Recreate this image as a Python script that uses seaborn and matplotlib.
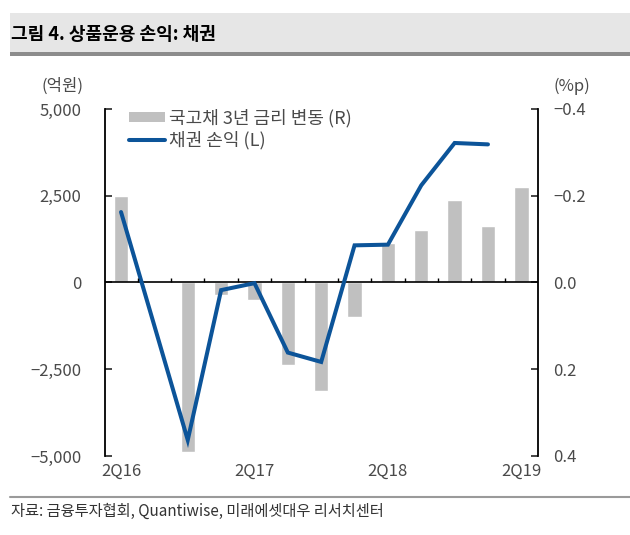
import numpy as np
import pandas as pd
import seaborn as sns
import matplotlib.pyplot as plt
from matplotlib.patches import Patch, Rectangle
from matplotlib.lines import Line2D
from matplotlib.ticker import FuncFormatter

sns.set_style("white")
plt.rcParams['font.family'] = ['Noto Sans CJK KR', 'DejaVu Sans']

# data
quarters = ['2Q16', '3Q16', '4Q16', '1Q17', '2Q17', '3Q17', '4Q17',
            '1Q18', '2Q18', '3Q18', '4Q18', '1Q19', '2Q19']
rate_change = [-0.20, 0.0, 0.39, 0.03, 0.04, 0.19, 0.25,
               0.08, -0.09, -0.12, -0.19, -0.13, -0.22]   # %p, right axis
bond_pl = [2030, -1250, -4540, -220, -20, -2020, -2290,
           1070, 1090, 2800, 4020, 3980, np.nan]          # 억원, left axis
tick_quarters = ['2Q16', '2Q17', '2Q18', '2Q19']

bar_label = '국고채 3년 금리 변동 (R)'
line_label = '채권 손익 (L)'
bar_color = '#c0c0c0'
line_color = '#0c5499'
text_color = '#4a4a4a'

df = pd.DataFrame({'pos': np.arange(len(quarters)), 'quarter': quarters,
                   'rate': rate_change, 'pl': bond_pl})

fig = plt.figure(figsize=(6.3, 5.35), dpi=100)
ax = fig.add_axes([0.1667, 0.1477, 0.6873, 0.6486])
ax2 = ax.twinx()

sns.barplot(data=df, x='pos', y='rate', ax=ax2, native_scale=True,
            color=bar_color, width=0.43, errorbar=None, saturation=1)
sns.lineplot(data=df.dropna(), x='pos', y='pl', ax=ax, color=line_color,
             linewidth=2.9, solid_capstyle='round', solid_joinstyle='miter')

ax.set_zorder(ax2.get_zorder() + 1)
ax.patch.set_visible(False)

# zero line and small ticks between quarters
ax.axhline(0, color='black', linewidth=1.2, zorder=1)
ax.vlines(df['pos'][:-1] + 0.5, 0, 120, color='black', linewidth=1.0)

ax.set_ylim(-5000, 5000)
ax.set_yticks([5000, 2500, 0, -2500, -5000])
ax.yaxis.set_major_formatter(FuncFormatter(
    lambda v, p: f'{v:,.0f}'.replace('-', '\u2212')))
ax2.set_ylim(0.4, -0.4)
ax2.set_yticks([-0.4, -0.2, 0.0, 0.2, 0.4])
ax2.yaxis.set_major_formatter(FuncFormatter(
    lambda v, p: f'{v:.1f}'.replace('-', '\u2212')))

ax.set_xlim(-0.48, len(quarters) - 0.5)
ax.set_xticks([quarters.index(q) for q in tick_quarters])
ax.set_xticklabels(tick_quarters)
ax.set_xlabel('')
ax.set_ylabel('')
ax2.set_xlabel('')
ax2.set_ylabel('')

for a in (ax, ax2):
    for s in ('top', 'bottom'):
        a.spines[s].set_visible(False)
ax.spines['right'].set_visible(False)
ax2.spines['left'].set_visible(False)
ax.spines['left'].set_color('black')
ax.spines['left'].set_linewidth(1.3)
ax2.spines['right'].set_color('black')
ax2.spines['right'].set_linewidth(1.3)

ax.tick_params(axis='y', direction='in', length=5, width=1.2, pad=17,
               labelsize=12, labelcolor=text_color, left=True)
ax2.tick_params(axis='y', direction='in', length=5, width=1.2, pad=11,
                labelsize=12, labelcolor=text_color, right=True)
ax.tick_params(axis='x', length=0, pad=5, labelsize=12, labelcolor=text_color)

handles = [Patch(facecolor=bar_color, edgecolor='none'),
           Line2D([], [], color=line_color, linewidth=2.9)]
fig.legend(handles, [bar_label, line_label], loc='upper left',
           bbox_to_anchor=(0.204, 0.797), frameon=False, fontsize=13,
           labelcolor=text_color, handlelength=2.0, handleheight=0.45,
           handletextpad=0.22, labelspacing=0.2, borderpad=0,
           borderaxespad=0)

# unit labels
fig.text(0.132, 0.838, '(억원)', ha='right', va='center', fontsize=12,
         color=text_color)
fig.text(0.878, 0.838, '(%p)', ha='left', va='center', fontsize=12,
         color=text_color)

# title band
fig.patches.append(Rectangle((0.016, 0.902), 0.984, 0.073,
                             transform=fig.transFigure, facecolor='#e6e6e6',
                             edgecolor='none'))
fig.patches.append(Rectangle((0.016, 0.896), 0.984, 0.006,
                             transform=fig.transFigure, facecolor='#8c8c8c',
                             edgecolor='none'))
fig.text(0.018, 0.935, '그림 4. 상품운용 손익: 채권', ha='left', va='center',
         fontsize=13, fontweight='bold', color='black')

# source line
fig.add_artist(Line2D([0.016, 1.0], [0.071, 0.071], transform=fig.transFigure,
                      color='#9a9a9a', linewidth=1.5))
fig.text(0.018, 0.045, '자료: 금융투자협회, Quantiwise, 미래에셋대우 리서치센터',
         ha='left', va='center', fontsize=11, color='#333333')

fig.savefig('out.png', dpi=100)
